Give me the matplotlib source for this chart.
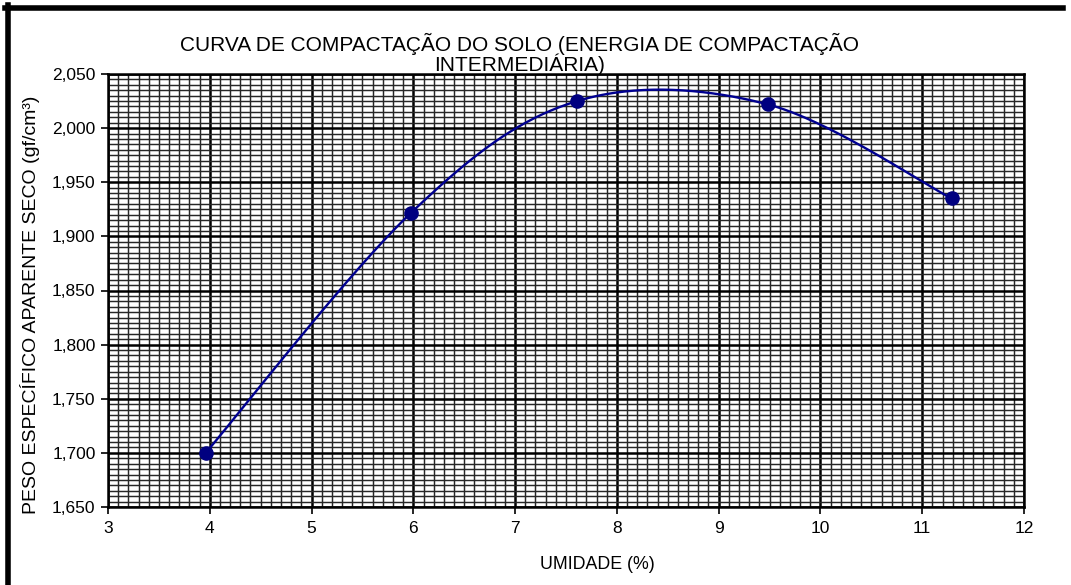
import numpy as np
import matplotlib
matplotlib.use("Agg")
import matplotlib.pyplot as plt
from matplotlib.lines import Line2D
from matplotlib.ticker import MultipleLocator, FuncFormatter

plt.rcParams['font.family'] = ['Liberation Sans', 'DejaVu Sans']

# dados do ensaio
umidade = [3.96, 5.98, 7.61, 9.48, 11.29]
peso_especifico = [1.700, 1.922, 2.025, 2.022, 1.935]

titulo = "CURVA DE COMPACTAÇÃO DO SOLO (ENERGIA DE COMPACTAÇÃO\nINTERMEDIÁRIA)"
rotulo_x = "UMIDADE (%)"
rotulo_y = "PESO ESPECÍFICO APARENTE SECO (gf/cm³)"


def curva_suave(xs, ys, n=60):
    """Spline Catmull-Rom, parecida com a linha suavizada do Excel."""
    p = np.column_stack([xs, ys])
    p = np.vstack([p[0], p, p[-1]])
    out = []
    for i in range(1, len(p) - 2):
        p0, p1, p2, p3 = p[i - 1], p[i], p[i + 1], p[i + 2]
        c1 = p1 + (p2 - p0) / 6.0
        c2 = p2 - (p3 - p1) / 6.0
        t = np.linspace(0, 1, n)[:, None]
        seg = ((1 - t) ** 3) * p1 + 3 * ((1 - t) ** 2) * t * c1 + 3 * (1 - t) * t ** 2 * c2 + t ** 3 * p2
        out.append(seg)
    out = np.vstack(out)
    return out[:, 0], out[:, 1]


fig = plt.figure(figsize=(10.71, 5.85), dpi=100)
ax = fig.add_axes([108 / 1071, 1 - 507 / 585, (1024 - 108) / 1071, (507 - 74) / 585])

ax.set_xlim(3, 12)
ax.set_ylim(1.650, 2.050)

ax.xaxis.set_major_locator(MultipleLocator(1))
ax.xaxis.set_minor_locator(MultipleLocator(0.1))
ax.yaxis.set_major_locator(MultipleLocator(0.05))
ax.yaxis.set_minor_locator(MultipleLocator(0.005))
ax.yaxis.set_major_formatter(FuncFormatter(lambda v, pos: f"{v:.3f}".replace('.', ',')))
ax.xaxis.set_major_formatter(FuncFormatter(lambda v, pos: f"{v:.0f}"))

ax.grid(which='minor', color='#262626', linewidth=1.05)
ax.grid(which='major', color='black', linewidth=1.8)
ax.set_axisbelow(True)

ax.tick_params(which='major', direction='out', length=5, width=1.2, labelsize=12.5, pad=4)
ax.tick_params(which='minor', length=0)
ax.tick_params(axis='x', pad=5)
for s in ax.spines.values():
    s.set_linewidth(1.8)
    s.set_color('black')

xs, ys = curva_suave(umidade, peso_especifico)
ax.plot(xs, ys, color='#000090', linewidth=1.7, zorder=3)
ax.plot(umidade, peso_especifico, 'o', color='#000080', markersize=9.5, zorder=4)

fig.text(520 / 1071, 1 - 54 / 585, titulo, ha='center', va='center', fontsize=15,
         linespacing=0.87)
ax.set_xlabel(rotulo_x, fontsize=12.8)
ax.set_ylabel(rotulo_y, fontsize=14)
ax.xaxis.set_label_coords(0.534, -0.113)
ax.yaxis.set_label_coords(-0.074, 0.467)

# moldura do grafico (esquerda e topo)
fig.add_artist(Line2D([7.5 / 1071, 7.5 / 1071], [0, 1 - 5 / 585], color='black', linewidth=4,
                      transform=fig.transFigure))
fig.add_artist(Line2D([5 / 1071, 1063 / 1071], [1 - 7.5 / 585, 1 - 7.5 / 585], color='black',
                      linewidth=4, transform=fig.transFigure))

fig.savefig("out.png", dpi=100)
